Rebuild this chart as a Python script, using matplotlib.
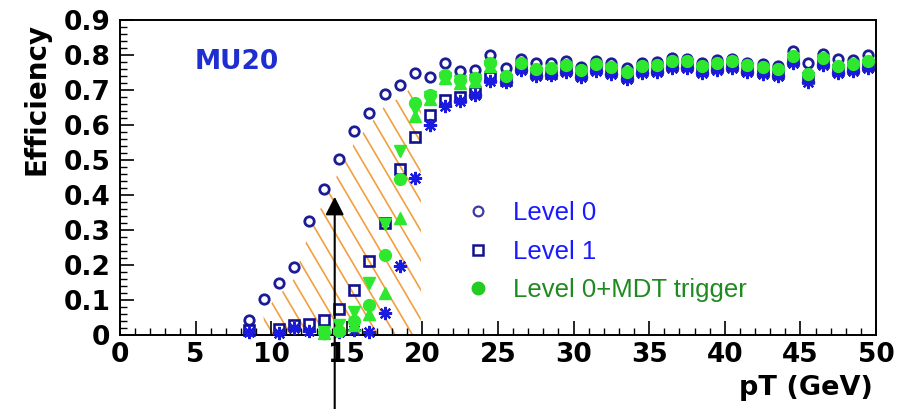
import numpy as np
import matplotlib.pyplot as plt
from matplotlib.lines import Line2D
from matplotlib.path import Path
from matplotlib.ticker import MultipleLocator, FuncFormatter

# bin centres (GeV)
pt = [8.5, 9.5, 10.5, 11.5, 12.5, 13.5, 14.5, 15.5, 16.5, 17.5, 18.5, 19.5,
      20.5, 21.5, 22.5, 23.5, 24.5, 25.5, 26.5, 27.5, 28.5, 29.5, 30.5, 31.5,
      32.5, 33.5, 34.5, 35.5, 36.5, 37.5, 38.5, 39.5, 40.5, 41.5, 42.5, 43.5,
      44.5, 45.5, 46.5, 47.5, 48.5, 49.5]

level0 = [0.043, 0.103, 0.148, 0.195, 0.327, 0.418, 0.503, 0.584, 0.635, 0.689,
          0.713, 0.750, 0.737, 0.776, 0.753, 0.756, 0.800, 0.764, 0.790, 0.776,
          0.776, 0.783, 0.767, 0.783, 0.776, 0.762, 0.776, 0.779, 0.792, 0.790,
          0.776, 0.786, 0.790, 0.776, 0.773, 0.770, 0.811, 0.776, 0.802, 0.790,
          0.786, 0.800]

level1 = [0.015, np.nan, 0.016, 0.030, 0.031, 0.043, 0.073, 0.130, 0.211, 0.321,
          0.474, 0.567, 0.629, 0.671, 0.681, 0.695, 0.738, 0.730, 0.765, 0.748,
          0.750, 0.760, 0.745, 0.762, 0.755, 0.740, 0.757, 0.760, 0.772, 0.772,
          0.757, 0.766, 0.772, 0.760, 0.755, 0.748, 0.785, 0.735, 0.780, 0.757,
          0.762, 0.772]

level1_star = [0.010, np.nan, 0.005, 0.020, 0.012, 0.005, 0.010, 0.015, 0.010, 0.062,
               0.198, 0.450, 0.600, 0.655, 0.670, 0.686, 0.727, 0.722, 0.756, 0.740,
               0.742, 0.752, 0.737, 0.754, 0.747, 0.732, 0.749, 0.752, 0.764, 0.764,
               0.749, 0.758, 0.764, 0.752, 0.747, 0.740, 0.777, 0.722, 0.772, 0.749,
               0.754, 0.764]

level0_mdt = [np.nan, np.nan, np.nan, np.nan, np.nan, 0.008, 0.012, 0.040, 0.085, 0.229,
              0.447, 0.662, 0.686, 0.743, 0.729, 0.733, 0.776, 0.740, 0.776, 0.759,
              0.762, 0.771, 0.757, 0.774, 0.767, 0.752, 0.769, 0.771, 0.784, 0.784,
              0.769, 0.778, 0.784, 0.771, 0.767, 0.759, 0.797, 0.746, 0.791, 0.769,
              0.774, 0.784]

tri_pt = [13.5, 14.5, 15.5, 16.5, 17.5, 18.5, 19.5, 20.5, 21.5, 22.5, 23.5, 24.5]
tri_down = [0.010, 0.030, 0.067, 0.149, 0.318, 0.526, 0.645, 0.680, 0.735, 0.725, 0.728, 0.770]
tri_up = [0.005, 0.020, 0.030, 0.060, 0.121, 0.335, 0.625, 0.675, 0.735, 0.720, 0.725, 0.770]

navy = "#1c1c96"
green = "#2ee82e"

fig = plt.figure(figsize=(8.98, 4.09), dpi=100)
ax = fig.add_axes([120 / 898, 74 / 409, 756 / 898, 315 / 409])
ax.set_xlim(0, 50)
ax.set_ylim(0, 0.9)

# orange hatched band under the Level 0 curve, between ~10 and 20 GeV
x0 = np.array(pt[1:12])
y0 = np.array(level0[1:12]) - 0.035
verts = [(x0[0], 0)] + list(zip(x0, y0)) + [(19.9, y0[-1]), (19.9, 0), (x0[0], 0)]
band = Path(verts, closed=True)
k = 0.0734
for c in np.arange(9.0, 45.0, 1.15):
    xs = np.array([c - 14, c])
    ln, = ax.plot(xs, k * (c - xs), color="#f0a040", lw=1.2, zorder=1)
    ln.set_clip_path(band, ax.transData)

kw = dict(linestyle="none", clip_on=False)
ax.plot(pt, level0, marker="o", ms=6.8, mfc="none", mec=navy, mew=2.0, zorder=3, **kw)
ax.plot(pt, level1, marker="s", ms=6.8, mfc="none", mec="#12128f", mew=1.9, zorder=3, **kw)
ax.plot(pt, level1_star, marker=(8, 2, 0), ms=9.5, mec="#1a1ae0", mew=1.6, zorder=3, **kw)
ax.plot(tri_pt, tri_down, marker="v", ms=8, color=green, zorder=4, **kw)
ax.plot(tri_pt, tri_up, marker="^", ms=8, color=green, zorder=4, **kw)
ax.plot(pt, level0_mdt, marker="o", ms=8.5, color=green, mec=green, zorder=5, **kw)

# axes styling, ROOT-like
ax.xaxis.set_major_locator(MultipleLocator(5))
ax.xaxis.set_minor_locator(MultipleLocator(1))
ax.yaxis.set_major_locator(MultipleLocator(0.1))
ax.yaxis.set_minor_locator(MultipleLocator(0.02))
ax.yaxis.set_major_formatter(FuncFormatter(lambda v, _: f"{v:g}"))
ax.tick_params(which="major", direction="in", length=10, width=1.2)
ax.tick_params(which="minor", direction="in", length=5, width=1.0)
ax.tick_params(axis="x", pad=5)
ax.tick_params(axis="y", pad=7)
for lab in ax.get_xticklabels() + ax.get_yticklabels():
    lab.set_fontfamily("DejaVu Sans")
    lab.set_fontweight("heavy")
    lab.set_fontsize(19)
for s in ax.spines.values():
    s.set_linewidth(1.4)

fig.text(37 / 898, (409 - 99) / 409, "Efficiency", rotation=90, ha="center", va="center",
         fontsize=20, fontweight="heavy", family="DejaVu Sans")
fig.text(873 / 898, (409 - 388) / 409, "pT (GeV)", ha="right", va="center",
         fontsize=19.5, fontweight="heavy", family="DejaVu Sans")
ax.text(0.155, 0.868, "MU20", transform=ax.transAxes, ha="center", va="center",
        fontsize=19, fontweight="heavy", color="#1f2fcf", family="DejaVu Sans")

# arrow marking the threshold
ax.annotate("", xy=(14.2, 0.395), xycoords="data", xytext=(14.2, 0.0),
            textcoords=("data", "figure fraction"), annotation_clip=False,
            arrowprops=dict(arrowstyle="-|>,head_length=0.55,head_width=0.28",
                            mutation_scale=20, color="black", lw=1.5,
                            shrinkA=0, shrinkB=0))

handles = [
    Line2D([], [], linestyle="none", marker="o", ms=7, mfc="none", mec="#3a3aa8", mew=1.6),
    Line2D([], [], linestyle="none", marker="s", ms=7, mfc="none", mec="#12128f", mew=1.8),
    Line2D([], [], linestyle="none", marker="o", ms=9, color="#22cc22"),
]
ax.legend(handles, ["Level 0", "Level 1", "Level 0+MDT trigger"],
          loc="upper left", bbox_to_anchor=(0.456, 0.424), frameon=False,
          borderpad=0, borderaxespad=0, handlelength=1.0, handletextpad=0.86,
          labelspacing=0.55, labelcolor=["#1a1aff", "#1a1aff", "#1f8a1f"],
          prop={"family": "Liberation Sans", "size": 18.5})

fig.savefig("out.png", dpi=100)
